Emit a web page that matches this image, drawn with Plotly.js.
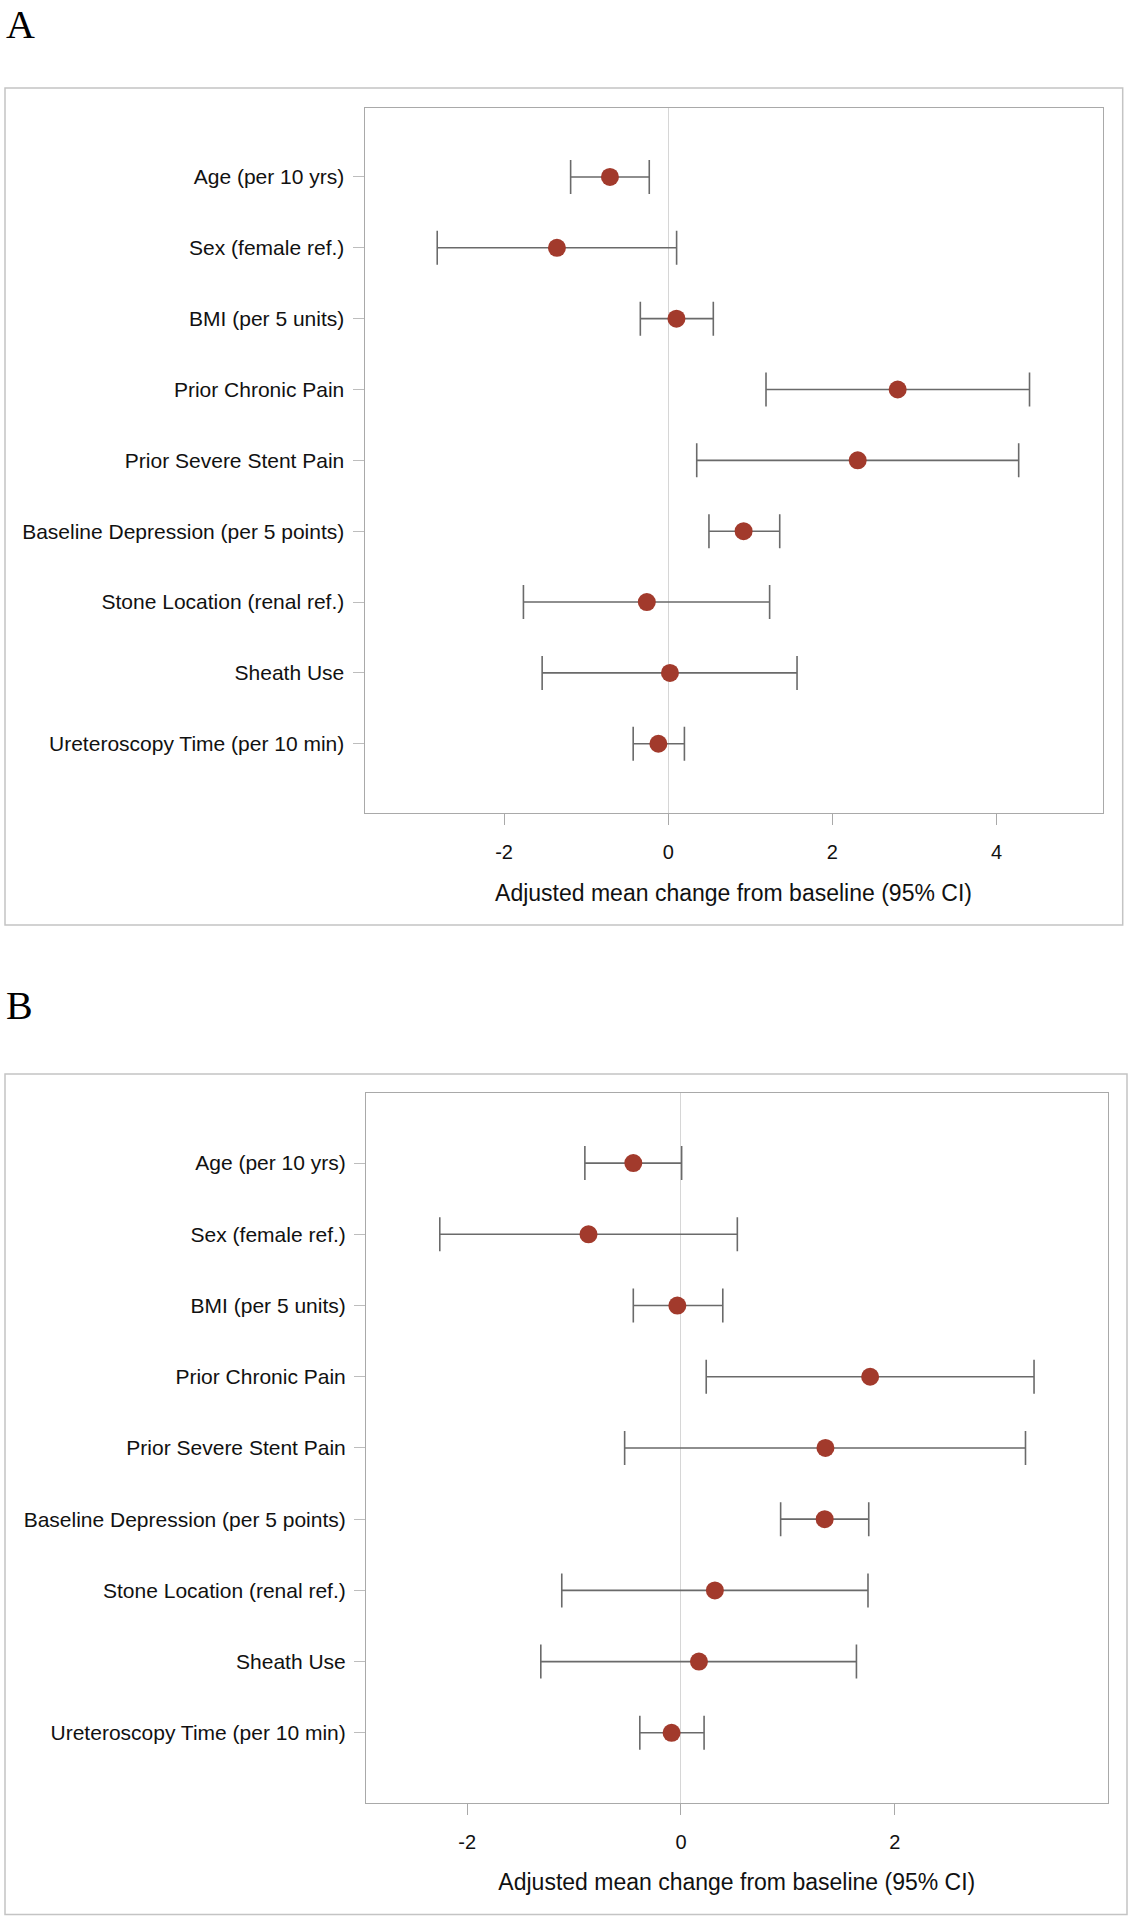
<!DOCTYPE html>
<html>
<head>
<meta charset="utf-8">
<script src="https://cdn.plot.ly/plotly-3.0.1.min.js"></script>
<style>html,body{margin:0;padding:0;background:#fff;}#chart{width:1132px;height:1920px;}</style>
</head>
<body>
<div id="chart"></div>
<script>
// ---- Data ----
const categories = [
  "Age (per 10 yrs)",
  "Sex (female ref.)",
  "BMI (per 5 units)",
  "Prior Chronic Pain",
  "Prior Severe Stent Pain",
  "Baseline Depression (per 5 points)",
  "Stone Location (renal ref.)",
  "Sheath Use",
  "Ureteroscopy Time (per 10 min)"
];
// Panel A
const estA   = [-0.71, -1.356, 0.10, 2.795, 2.308, 0.918, -0.261, 0.021, -0.120];
const lowerA = [-1.189, -2.814, -0.340, 1.191, 0.347, 0.496, -1.764, -1.536, -0.427];
const upperA = [-0.231, 0.102, 0.549, 4.401, 4.269, 1.358, 1.235, 1.569, 0.197];
// Panel B
const estB   = [-0.446, -0.865, -0.034, 1.769, 1.351, 1.344, 0.317, 0.168, -0.088];
const lowerB = [-0.899, -2.256, -0.446, 0.236, -0.527, 0.932, -1.115, -1.311, -0.385];
const upperB = [0.006, 0.527, 0.391, 3.302, 3.222, 1.756, 1.749, 1.641, 0.216];

const ticksA = [-2, 0, 2, 4];
const ticksB = [-2, 0, 2];
const panelLabels = ["A", "B"];
const xTitle = "Adjusted mean change from baseline (95% CI)";

// ---- Styling ----
const W = 1132, H = 1920;
const SANS = "Liberation Sans, Arial, sans-serif";
const SERIF = "Liberation Serif, Times New Roman, serif";
const dotColor = "#A23A2C";
const barColor = "#6a6a6a";
const frameColor = "#a9a9a9";
const px = v => v / W;
const py = v => 1 - v / H;

function trace(est, lo, hi, xa, ya) {
  return {
    type: "scatter", mode: "markers",
    x: est, y: categories, xaxis: xa, yaxis: ya,
    marker: {color: dotColor, size: 18, line: {width: 0}},
    error_x: {
      type: "data", symmetric: false,
      array: hi.map((h, i) => h - est[i]),
      arrayminus: lo.map((l, i) => est[i] - l),
      color: barColor, thickness: 1.6, width: 17
    },
    showlegend: false, hoverinfo: "x+y"
  };
}

function xax(domain, range, ticks, anchor) {
  return {
    domain: domain, range: range, anchor: anchor,
    tickmode: "array", tickvals: ticks, ticktext: ticks.map(String),
    ticks: "outside", ticklen: 11, tickcolor: frameColor, tickwidth: 1,
    ticklabelstandoff: 10,
    tickfont: {family: SANS, size: 20, color: "#111"},
    showgrid: false,
    zeroline: true, zerolinecolor: "#d6d6d6", zerolinewidth: 1,
    showline: true, linecolor: frameColor, linewidth: 1, mirror: true,
    title: {text: xTitle, font: {family: SANS, size: 23, color: "#111"}, standoff: 22},
    automargin: false
  };
}
function yax(domain, anchor) {
  return {
    domain: domain, anchor: anchor, type: "category",
    categoryorder: "array", categoryarray: categories,
    range: [8.98, -0.98], autorange: false,
    ticks: "outside", ticklen: 11, tickcolor: "#bdbdbd", tickwidth: 1,
    ticklabelstandoff: 4,
    tickfont: {family: SANS, size: 21, color: "#111"},
    showgrid: false, zeroline: false,
    showline: true, linecolor: frameColor, linewidth: 1, mirror: true,
    automargin: false
  };
}

const data = [
  trace(estA, lowerA, upperA, "x", "y"),
  trace(estB, lowerB, upperB, "x2", "y2")
];

const layout = {
  width: W, height: H,
  margin: {l: 0, r: 0, t: 0, b: 0},
  paper_bgcolor: "#fff", plot_bgcolor: "#fff",
  xaxis:  xax([px(364.5), px(1102.5)], [-3.70, 5.29], ticksA, "y"),
  yaxis:  yax([py(813.2), py(107.5)], "x"),
  xaxis2: xax([px(366), px(1107.6)], [-2.946, 3.99], ticksB, "y2"),
  yaxis2: yax([py(1802.6), py(1093.3)], "x2"),
  shapes: [
    {type: "rect", xref: "paper", yref: "paper", x0: px(5), x1: px(1122.7), y0: py(925), y1: py(88),
     line: {color: "#c4c4c4", width: 1.5}, fillcolor: "rgba(0,0,0,0)", layer: "below"},
    {type: "rect", xref: "paper", yref: "paper", x0: px(5), x1: px(1127), y0: py(1914.5), y1: py(1074),
     line: {color: "#c4c4c4", width: 1.5}, fillcolor: "rgba(0,0,0,0)", layer: "below"}
  ],
  annotations: [
    {text: panelLabels[0], xref: "paper", yref: "paper", x: px(4), y: 1, xanchor: "left", yanchor: "top",
     showarrow: false, font: {family: SERIF, size: 40, color: "#000"}},
    {text: panelLabels[1], xref: "paper", yref: "paper", x: px(4), y: py(1005), xanchor: "left", yanchor: "middle",
     showarrow: false, font: {family: SERIF, size: 40, color: "#000"}}
  ]
};

Plotly.newPlot("chart", data, layout, {displayModeBar: false, staticPlot: true});
</script>
</body>
</html>
